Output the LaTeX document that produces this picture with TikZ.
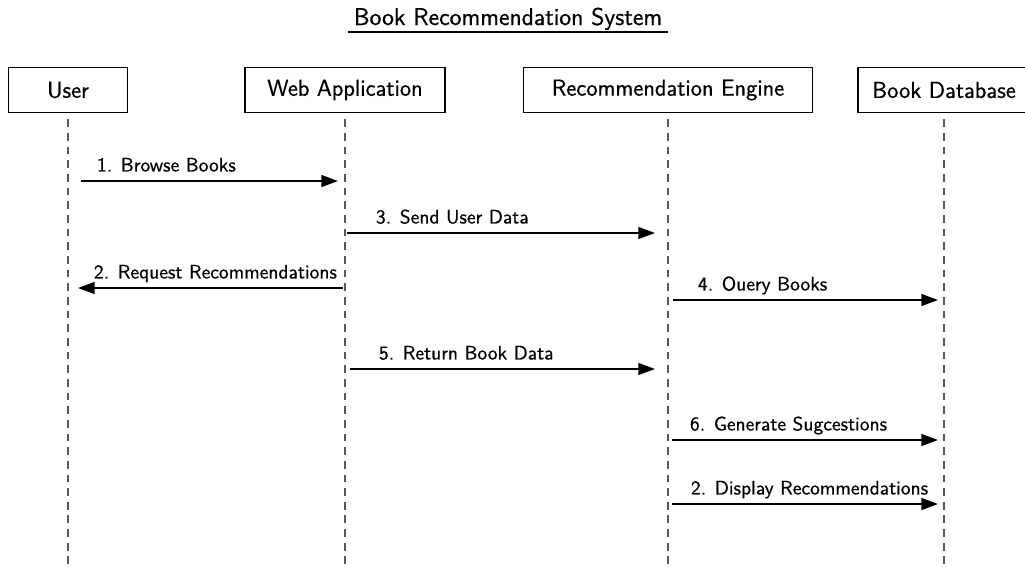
\documentclass[tikz,border=0pt]{standalone}
\usepackage{fontspec}
\newfontfamily\diagfont{Latin Modern Sans}[FakeBold=0.7]
\usetikzlibrary{arrows.meta}
\begin{document}
\begin{tikzpicture}[x=0.018cm,y=-0.018cm,font=\diagfont,
    actor/.style={draw,line width=0.9pt,minimum height=0.81cm,inner sep=0pt,font=\diagfont\fontsize{11.8}{14}\selectfont},
    life/.style={line width=0.8pt,gray!70!black,dash pattern=on 4pt off 3pt},
    msg/.style={line width=1pt,-{Triangle[length=8.5pt,width=6pt]}},
    lbl/.style={anchor=base west,inner sep=0pt,xshift=#1*0.512pt,yshift=4.9pt,font=\diagfont\fontsize{10}{12}\selectfont},
    lbl/.default=15]
  \useasboundingbox (0,0) rectangle (1025,566);
  \node[anchor=base,inner xsep=3pt,inner ysep=1pt,font=\diagfont\fontsize{12.4}{15}\selectfont] (title) at (508,25) {Book Recommendation System};
  \draw[line width=0.9pt] (title.south west) -- (title.south east);
  \node[actor,minimum width=2.14cm] (User) at (68,90) {User};
  \node[actor,minimum width=3.6cm] (WebApp) at (345,90) {Web Application};
  \node[actor,minimum width=5.2cm] (Engine) at (668,90) {Recommendation Engine};
  \node[actor,minimum width=3.1cm] (BookDB) at (944,90) {Book Database};
  \coordinate (bottom) at (0,566);
  \foreach \n in {User,WebApp,Engine,BookDB}
    \draw[life] ([yshift=-3pt]\n.south) -- (\n.south |- bottom);
  \coordinate (u1) at (81,181);  \coordinate (w1) at (338,181);
  \coordinate (w3) at (347,233); \coordinate (e3) at (655,233);
  \coordinate (w2) at (343,288); \coordinate (u2) at (78,288);
  \coordinate (e4) at (673,300); \coordinate (d4) at (938,300);
  \coordinate (w5) at (350,369); \coordinate (e5) at (655,369);
  \coordinate (e6) at (672,440); \coordinate (d6) at (938,440);
  \coordinate (e7) at (672,504); \coordinate (d7) at (938,504);
  \draw[msg] (u1) -- node[lbl,pos=0] {1. Browse Books} (w1);
  \draw[msg] (w3) -- node[lbl=28,pos=0] {3. Send User Data} (e3);
  \draw[msg] (w2) -- node[lbl,pos=1] {2. Request Recommendations} (u2);
  \draw[msg] (e4) -- node[lbl=24,pos=0] {4. Ouery Books} (d4);
  \draw[msg] (w5) -- node[lbl=28,pos=0] {5. Return Book Data} (e5);
  \draw[msg] (e6) -- node[lbl=17,pos=0] {6. Generate Sugcestions} (d6);
  \draw[msg] (e7) -- node[lbl=18,pos=0] {2. Display Recommendations} (d7);
\end{tikzpicture}
\end{document}
